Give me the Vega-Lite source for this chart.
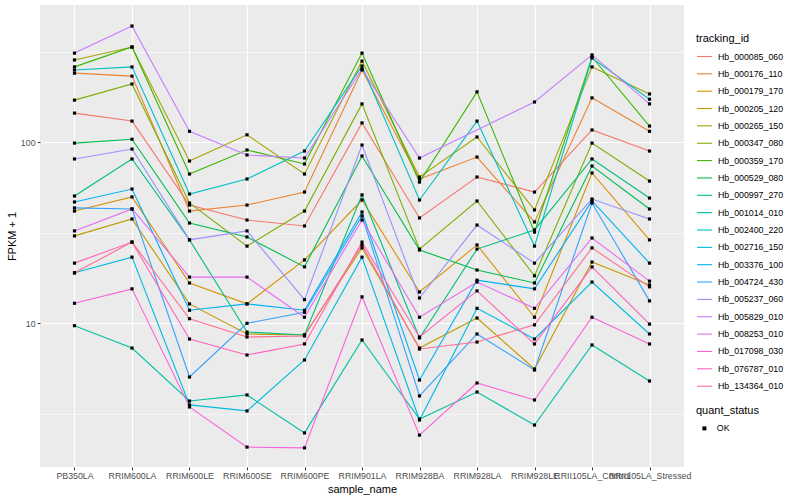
{
  "$schema": "https://vega.github.io/schema/vega-lite/v6.json",
  "autosize": {"type": "none"},
  "width": 644,
  "height": 462,
  "padding": {"left": 40, "top": 5, "right": 116, "bottom": 33},
  "background": "white",
  "config": {
    "view": {"fill": "#EBEBEB", "stroke": null},
    "font": "Liberation Sans",
    "axis": {"domain": false, "grid": true, "gridColor": "#FFFFFF", "tickColor": "#333333", "tickSize": 2.75, "labelColor": "#4D4D4D", "labelFontSize": 8.8, "labelPadding": 2.2, "titleFontSize": 11, "titleFontWeight": "normal", "titleColor": "#000000", "labelFont": "Liberation Sans", "titleFont": "Liberation Sans"},
    "legend": {"titleFontSize": 11, "titleFontWeight": "normal", "labelFontSize": 8.8, "titleColor": "#000000", "labelColor": "#000000", "titleFont": "Liberation Sans", "labelFont": "Liberation Sans"}
  },
  "data": {"values": [
    {"id":"Hb_000085_060","sample":"PB350LA","fpkm":145,"status":"OK"},
    {"id":"Hb_000085_060","sample":"RRIM600LA","fpkm":131,"status":"OK"},
    {"id":"Hb_000085_060","sample":"RRIM600LE","fpkm":45.0,"status":"OK"},
    {"id":"Hb_000085_060","sample":"RRIM600SE","fpkm":37.2,"status":"OK"},
    {"id":"Hb_000085_060","sample":"RRIM600PE","fpkm":34.5,"status":"OK"},
    {"id":"Hb_000085_060","sample":"RRIM901LA","fpkm":128,"status":"OK"},
    {"id":"Hb_000085_060","sample":"RRIM928BA","fpkm":38.2,"status":"OK"},
    {"id":"Hb_000085_060","sample":"RRIM928LA","fpkm":64.3,"status":"OK"},
    {"id":"Hb_000085_060","sample":"RRIM928LE","fpkm":53.1,"status":"OK"},
    {"id":"Hb_000085_060","sample":"RRII105LA_Control","fpkm":117,"status":"OK"},
    {"id":"Hb_000085_060","sample":"RRII105LA_Stressed","fpkm":89.5,"status":"OK"},
    {"id":"Hb_000176_110","sample":"PB350LA","fpkm":241,"status":"OK"},
    {"id":"Hb_000176_110","sample":"RRIM600LA","fpkm":232,"status":"OK"},
    {"id":"Hb_000176_110","sample":"RRIM600LE","fpkm":41.7,"status":"OK"},
    {"id":"Hb_000176_110","sample":"RRIM600SE","fpkm":45.0,"status":"OK"},
    {"id":"Hb_000176_110","sample":"RRIM600PE","fpkm":53.1,"status":"OK"},
    {"id":"Hb_000176_110","sample":"RRIM901LA","fpkm":251,"status":"OK"},
    {"id":"Hb_000176_110","sample":"RRIM928BA","fpkm":62.7,"status":"OK"},
    {"id":"Hb_000176_110","sample":"RRIM928LA","fpkm":82.9,"status":"OK"},
    {"id":"Hb_000176_110","sample":"RRIM928LE","fpkm":36.3,"status":"OK"},
    {"id":"Hb_000176_110","sample":"RRII105LA_Control","fpkm":176,"status":"OK"},
    {"id":"Hb_000176_110","sample":"RRII105LA_Stressed","fpkm":115,"status":"OK"},
    {"id":"Hb_000179_170","sample":"PB350LA","fpkm":41.7,"status":"OK"},
    {"id":"Hb_000179_170","sample":"RRIM600LA","fpkm":49.9,"status":"OK"},
    {"id":"Hb_000179_170","sample":"RRIM600LE","fpkm":16.7,"status":"OK"},
    {"id":"Hb_000179_170","sample":"RRIM600SE","fpkm":12.8,"status":"OK"},
    {"id":"Hb_000179_170","sample":"RRIM600PE","fpkm":22.4,"status":"OK"},
    {"id":"Hb_000179_170","sample":"RRIM901LA","fpkm":48.0,"status":"OK"},
    {"id":"Hb_000179_170","sample":"RRIM928BA","fpkm":14.9,"status":"OK"},
    {"id":"Hb_000179_170","sample":"RRIM928LA","fpkm":27.1,"status":"OK"},
    {"id":"Hb_000179_170","sample":"RRIM928LE","fpkm":10.8,"status":"OK"},
    {"id":"Hb_000179_170","sample":"RRII105LA_Control","fpkm":67.7,"status":"OK"},
    {"id":"Hb_000179_170","sample":"RRII105LA_Stressed","fpkm":28.9,"status":"OK"},
    {"id":"Hb_000205_120","sample":"PB350LA","fpkm":30.4,"status":"OK"},
    {"id":"Hb_000205_120","sample":"RRIM600LA","fpkm":37.7,"status":"OK"},
    {"id":"Hb_000205_120","sample":"RRIM600LE","fpkm":12.8,"status":"OK"},
    {"id":"Hb_000205_120","sample":"RRIM600SE","fpkm":8.73,"status":"OK"},
    {"id":"Hb_000205_120","sample":"RRIM600PE","fpkm":8.62,"status":"OK"},
    {"id":"Hb_000205_120","sample":"RRIM901LA","fpkm":26.1,"status":"OK"},
    {"id":"Hb_000205_120","sample":"RRIM928BA","fpkm":7.30,"status":"OK"},
    {"id":"Hb_000205_120","sample":"RRIM928LA","fpkm":10.7,"status":"OK"},
    {"id":"Hb_000205_120","sample":"RRIM928LE","fpkm":5.59,"status":"OK"},
    {"id":"Hb_000205_120","sample":"RRII105LA_Control","fpkm":21.8,"status":"OK"},
    {"id":"Hb_000205_120","sample":"RRII105LA_Stressed","fpkm":16.3,"status":"OK"},
    {"id":"Hb_000265_150","sample":"PB350LA","fpkm":285,"status":"OK"},
    {"id":"Hb_000265_150","sample":"RRIM600LA","fpkm":336,"status":"OK"},
    {"id":"Hb_000265_150","sample":"RRIM600LE","fpkm":78.8,"status":"OK"},
    {"id":"Hb_000265_150","sample":"RRIM600SE","fpkm":110,"status":"OK"},
    {"id":"Hb_000265_150","sample":"RRIM600PE","fpkm":66.8,"status":"OK"},
    {"id":"Hb_000265_150","sample":"RRIM901LA","fpkm":281,"status":"OK"},
    {"id":"Hb_000265_150","sample":"RRIM928BA","fpkm":64.3,"status":"OK"},
    {"id":"Hb_000265_150","sample":"RRIM928LA","fpkm":107,"status":"OK"},
    {"id":"Hb_000265_150","sample":"RRIM928LE","fpkm":42.3,"status":"OK"},
    {"id":"Hb_000265_150","sample":"RRII105LA_Control","fpkm":261,"status":"OK"},
    {"id":"Hb_000265_150","sample":"RRII105LA_Stressed","fpkm":185,"status":"OK"},
    {"id":"Hb_000347_080","sample":"PB350LA","fpkm":171,"status":"OK"},
    {"id":"Hb_000347_080","sample":"RRIM600LA","fpkm":210,"status":"OK"},
    {"id":"Hb_000347_080","sample":"RRIM600LE","fpkm":46.2,"status":"OK"},
    {"id":"Hb_000347_080","sample":"RRIM600SE","fpkm":26.7,"status":"OK"},
    {"id":"Hb_000347_080","sample":"RRIM600PE","fpkm":41.7,"status":"OK"},
    {"id":"Hb_000347_080","sample":"RRIM901LA","fpkm":163,"status":"OK"},
    {"id":"Hb_000347_080","sample":"RRIM928BA","fpkm":25.7,"status":"OK"},
    {"id":"Hb_000347_080","sample":"RRIM928LA","fpkm":47.4,"status":"OK"},
    {"id":"Hb_000347_080","sample":"RRIM928LE","fpkm":18.3,"status":"OK"},
    {"id":"Hb_000347_080","sample":"RRII105LA_Control","fpkm":99,"status":"OK"},
    {"id":"Hb_000347_080","sample":"RRII105LA_Stressed","fpkm":61.1,"status":"OK"},
    {"id":"Hb_000359_170","sample":"PB350LA","fpkm":261,"status":"OK"},
    {"id":"Hb_000359_170","sample":"RRIM600LA","fpkm":336,"status":"OK"},
    {"id":"Hb_000359_170","sample":"RRIM600LE","fpkm":66.8,"status":"OK"},
    {"id":"Hb_000359_170","sample":"RRIM600SE","fpkm":90.7,"status":"OK"},
    {"id":"Hb_000359_170","sample":"RRIM600PE","fpkm":75.9,"status":"OK"},
    {"id":"Hb_000359_170","sample":"RRIM901LA","fpkm":311,"status":"OK"},
    {"id":"Hb_000359_170","sample":"RRIM928BA","fpkm":60.3,"status":"OK"},
    {"id":"Hb_000359_170","sample":"RRIM928LA","fpkm":190,"status":"OK"},
    {"id":"Hb_000359_170","sample":"RRIM928LE","fpkm":31.9,"status":"OK"},
    {"id":"Hb_000359_170","sample":"RRII105LA_Control","fpkm":296,"status":"OK"},
    {"id":"Hb_000359_170","sample":"RRII105LA_Stressed","fpkm":123,"status":"OK"},
    {"id":"Hb_000529_080","sample":"PB350LA","fpkm":99,"status":"OK"},
    {"id":"Hb_000529_080","sample":"RRIM600LA","fpkm":104,"status":"OK"},
    {"id":"Hb_000529_080","sample":"RRIM600LE","fpkm":35.8,"status":"OK"},
    {"id":"Hb_000529_080","sample":"RRIM600SE","fpkm":30.0,"status":"OK"},
    {"id":"Hb_000529_080","sample":"RRIM600PE","fpkm":20.5,"status":"OK"},
    {"id":"Hb_000529_080","sample":"RRIM901LA","fpkm":84.0,"status":"OK"},
    {"id":"Hb_000529_080","sample":"RRIM928BA","fpkm":25.4,"status":"OK"},
    {"id":"Hb_000529_080","sample":"RRIM928LA","fpkm":19.7,"status":"OK"},
    {"id":"Hb_000529_080","sample":"RRIM928LE","fpkm":16.7,"status":"OK"},
    {"id":"Hb_000529_080","sample":"RRII105LA_Control","fpkm":74.0,"status":"OK"},
    {"id":"Hb_000529_080","sample":"RRII105LA_Stressed","fpkm":42.8,"status":"OK"},
    {"id":"Hb_000997_270","sample":"PB350LA","fpkm":50.5,"status":"OK"},
    {"id":"Hb_000997_270","sample":"RRIM600LA","fpkm":80.9,"status":"OK"},
    {"id":"Hb_000997_270","sample":"RRIM600LE","fpkm":28.9,"status":"OK"},
    {"id":"Hb_000997_270","sample":"RRIM600SE","fpkm":8.95,"status":"OK"},
    {"id":"Hb_000997_270","sample":"RRIM600PE","fpkm":8.62,"status":"OK"},
    {"id":"Hb_000997_270","sample":"RRIM901LA","fpkm":51.2,"status":"OK"},
    {"id":"Hb_000997_270","sample":"RRIM928BA","fpkm":8.30,"status":"OK"},
    {"id":"Hb_000997_270","sample":"RRIM928LA","fpkm":25.7,"status":"OK"},
    {"id":"Hb_000997_270","sample":"RRIM928LE","fpkm":32.8,"status":"OK"},
    {"id":"Hb_000997_270","sample":"RRII105LA_Control","fpkm":80.9,"status":"OK"},
    {"id":"Hb_000997_270","sample":"RRII105LA_Stressed","fpkm":49.2,"status":"OK"},
    {"id":"Hb_001014_010","sample":"PB350LA","fpkm":9.7,"status":"OK"},
    {"id":"Hb_001014_010","sample":"RRIM600LA","fpkm":7.30,"status":"OK"},
    {"id":"Hb_001014_010","sample":"RRIM600LE","fpkm":3.72,"status":"OK"},
    {"id":"Hb_001014_010","sample":"RRIM600SE","fpkm":4.02,"status":"OK"},
    {"id":"Hb_001014_010","sample":"RRIM600PE","fpkm":2.48,"status":"OK"},
    {"id":"Hb_001014_010","sample":"RRIM901LA","fpkm":8.09,"status":"OK"},
    {"id":"Hb_001014_010","sample":"RRIM928BA","fpkm":2.96,"status":"OK"},
    {"id":"Hb_001014_010","sample":"RRIM928LA","fpkm":4.17,"status":"OK"},
    {"id":"Hb_001014_010","sample":"RRIM928LE","fpkm":2.74,"status":"OK"},
    {"id":"Hb_001014_010","sample":"RRII105LA_Control","fpkm":7.59,"status":"OK"},
    {"id":"Hb_001014_010","sample":"RRII105LA_Stressed","fpkm":4.80,"status":"OK"},
    {"id":"Hb_002400_220","sample":"PB350LA","fpkm":251,"status":"OK"},
    {"id":"Hb_002400_220","sample":"RRIM600LA","fpkm":261,"status":"OK"},
    {"id":"Hb_002400_220","sample":"RRIM600LE","fpkm":51.8,"status":"OK"},
    {"id":"Hb_002400_220","sample":"RRIM600SE","fpkm":62.7,"status":"OK"},
    {"id":"Hb_002400_220","sample":"RRIM600PE","fpkm":89.5,"status":"OK"},
    {"id":"Hb_002400_220","sample":"RRIM901LA","fpkm":264,"status":"OK"},
    {"id":"Hb_002400_220","sample":"RRIM928BA","fpkm":48.0,"status":"OK"},
    {"id":"Hb_002400_220","sample":"RRIM928LA","fpkm":131,"status":"OK"},
    {"id":"Hb_002400_220","sample":"RRIM928LE","fpkm":26.7,"status":"OK"},
    {"id":"Hb_002400_220","sample":"RRII105LA_Control","fpkm":292,"status":"OK"},
    {"id":"Hb_002400_220","sample":"RRII105LA_Stressed","fpkm":173,"status":"OK"},
    {"id":"Hb_002716_150","sample":"PB350LA","fpkm":19.0,"status":"OK"},
    {"id":"Hb_002716_150","sample":"RRIM600LA","fpkm":23.2,"status":"OK"},
    {"id":"Hb_002716_150","sample":"RRIM600LE","fpkm":3.54,"status":"OK"},
    {"id":"Hb_002716_150","sample":"RRIM600SE","fpkm":3.28,"status":"OK"},
    {"id":"Hb_002716_150","sample":"RRIM600PE","fpkm":6.27,"status":"OK"},
    {"id":"Hb_002716_150","sample":"RRIM901LA","fpkm":23.2,"status":"OK"},
    {"id":"Hb_002716_150","sample":"RRIM928BA","fpkm":2.92,"status":"OK"},
    {"id":"Hb_002716_150","sample":"RRIM928LA","fpkm":12.1,"status":"OK"},
    {"id":"Hb_002716_150","sample":"RRIM928LE","fpkm":8.19,"status":"OK"},
    {"id":"Hb_002716_150","sample":"RRII105LA_Control","fpkm":16.9,"status":"OK"},
    {"id":"Hb_002716_150","sample":"RRII105LA_Stressed","fpkm":8.73,"status":"OK"},
    {"id":"Hb_003376_100","sample":"PB350LA","fpkm":46.8,"status":"OK"},
    {"id":"Hb_003376_100","sample":"RRIM600LA","fpkm":55.2,"status":"OK"},
    {"id":"Hb_003376_100","sample":"RRIM600LE","fpkm":11.8,"status":"OK"},
    {"id":"Hb_003376_100","sample":"RRIM600SE","fpkm":12.8,"status":"OK"},
    {"id":"Hb_003376_100","sample":"RRIM600PE","fpkm":11.8,"status":"OK"},
    {"id":"Hb_003376_100","sample":"RRIM901LA","fpkm":41.2,"status":"OK"},
    {"id":"Hb_003376_100","sample":"RRIM928BA","fpkm":4.86,"status":"OK"},
    {"id":"Hb_003376_100","sample":"RRIM928LA","fpkm":17.3,"status":"OK"},
    {"id":"Hb_003376_100","sample":"RRIM928LE","fpkm":15.5,"status":"OK"},
    {"id":"Hb_003376_100","sample":"RRII105LA_Control","fpkm":47.4,"status":"OK"},
    {"id":"Hb_003376_100","sample":"RRII105LA_Stressed","fpkm":21.5,"status":"OK"},
    {"id":"Hb_004724_430","sample":"PB350LA","fpkm":43.4,"status":"OK"},
    {"id":"Hb_004724_430","sample":"RRIM600LA","fpkm":42.8,"status":"OK"},
    {"id":"Hb_004724_430","sample":"RRIM600LE","fpkm":5.05,"status":"OK"},
    {"id":"Hb_004724_430","sample":"RRIM600SE","fpkm":10.0,"status":"OK"},
    {"id":"Hb_004724_430","sample":"RRIM600PE","fpkm":11.5,"status":"OK"},
    {"id":"Hb_004724_430","sample":"RRIM901LA","fpkm":39.2,"status":"OK"},
    {"id":"Hb_004724_430","sample":"RRIM928BA","fpkm":3.97,"status":"OK"},
    {"id":"Hb_004724_430","sample":"RRIM928LA","fpkm":8.73,"status":"OK"},
    {"id":"Hb_004724_430","sample":"RRIM928LE","fpkm":5.52,"status":"OK"},
    {"id":"Hb_004724_430","sample":"RRII105LA_Control","fpkm":46.2,"status":"OK"},
    {"id":"Hb_004724_430","sample":"RRII105LA_Stressed","fpkm":13.3,"status":"OK"},
    {"id":"Hb_005237_060","sample":"PB350LA","fpkm":80.9,"status":"OK"},
    {"id":"Hb_005237_060","sample":"RRIM600LA","fpkm":91.8,"status":"OK"},
    {"id":"Hb_005237_060","sample":"RRIM600LE","fpkm":28.9,"status":"OK"},
    {"id":"Hb_005237_060","sample":"RRIM600SE","fpkm":32.4,"status":"OK"},
    {"id":"Hb_005237_060","sample":"RRIM600PE","fpkm":13.5,"status":"OK"},
    {"id":"Hb_005237_060","sample":"RRIM901LA","fpkm":96.6,"status":"OK"},
    {"id":"Hb_005237_060","sample":"RRIM928BA","fpkm":13.8,"status":"OK"},
    {"id":"Hb_005237_060","sample":"RRIM928LA","fpkm":34.9,"status":"OK"},
    {"id":"Hb_005237_060","sample":"RRIM928LE","fpkm":21.5,"status":"OK"},
    {"id":"Hb_005237_060","sample":"RRII105LA_Control","fpkm":48.6,"status":"OK"},
    {"id":"Hb_005237_060","sample":"RRII105LA_Stressed","fpkm":37.7,"status":"OK"},
    {"id":"Hb_005829_010","sample":"PB350LA","fpkm":311,"status":"OK"},
    {"id":"Hb_005829_010","sample":"RRIM600LA","fpkm":439,"status":"OK"},
    {"id":"Hb_005829_010","sample":"RRIM600LE","fpkm":115,"status":"OK"},
    {"id":"Hb_005829_010","sample":"RRIM600SE","fpkm":85.1,"status":"OK"},
    {"id":"Hb_005829_010","sample":"RRIM600PE","fpkm":81.9,"status":"OK"},
    {"id":"Hb_005829_010","sample":"RRIM901LA","fpkm":254,"status":"OK"},
    {"id":"Hb_005829_010","sample":"RRIM928BA","fpkm":81.9,"status":"OK"},
    {"id":"Hb_005829_010","sample":"RRIM928LE","fpkm":167,"status":"OK"},
    {"id":"Hb_005829_010","sample":"RRII105LA_Control","fpkm":304,"status":"OK"},
    {"id":"Hb_005829_010","sample":"RRII105LA_Stressed","fpkm":163,"status":"OK"},
    {"id":"Hb_008253_010","sample":"PB350LA","fpkm":32.4,"status":"OK"},
    {"id":"Hb_008253_010","sample":"RRIM600LA","fpkm":42.8,"status":"OK"},
    {"id":"Hb_008253_010","sample":"RRIM600LE","fpkm":18.0,"status":"OK"},
    {"id":"Hb_008253_010","sample":"RRIM600SE","fpkm":18.0,"status":"OK"},
    {"id":"Hb_008253_010","sample":"RRIM600PE","fpkm":10.8,"status":"OK"},
    {"id":"Hb_008253_010","sample":"RRIM901LA","fpkm":37.2,"status":"OK"},
    {"id":"Hb_008253_010","sample":"RRIM928BA","fpkm":10.8,"status":"OK"},
    {"id":"Hb_008253_010","sample":"RRIM928LA","fpkm":16.9,"status":"OK"},
    {"id":"Hb_008253_010","sample":"RRIM928LE","fpkm":12.1,"status":"OK"},
    {"id":"Hb_008253_010","sample":"RRII105LA_Control","fpkm":29.6,"status":"OK"},
    {"id":"Hb_008253_010","sample":"RRII105LA_Stressed","fpkm":17.1,"status":"OK"},
    {"id":"Hb_017098_030","sample":"PB350LA","fpkm":12.9,"status":"OK"},
    {"id":"Hb_017098_030","sample":"RRIM600LA","fpkm":15.5,"status":"OK"},
    {"id":"Hb_017098_030","sample":"RRIM600LE","fpkm":3.45,"status":"OK"},
    {"id":"Hb_017098_030","sample":"RRIM600SE","fpkm":2.07,"status":"OK"},
    {"id":"Hb_017098_030","sample":"RRIM600PE","fpkm":2.05,"status":"OK"},
    {"id":"Hb_017098_030","sample":"RRIM901LA","fpkm":14.0,"status":"OK"},
    {"id":"Hb_017098_030","sample":"RRIM928BA","fpkm":2.41,"status":"OK"},
    {"id":"Hb_017098_030","sample":"RRIM928LA","fpkm":4.68,"status":"OK"},
    {"id":"Hb_017098_030","sample":"RRIM928LE","fpkm":3.77,"status":"OK"},
    {"id":"Hb_017098_030","sample":"RRII105LA_Control","fpkm":10.8,"status":"OK"},
    {"id":"Hb_017098_030","sample":"RRII105LA_Stressed","fpkm":7.69,"status":"OK"},
    {"id":"Hb_076787_010","sample":"PB350LA","fpkm":21.5,"status":"OK"},
    {"id":"Hb_076787_010","sample":"RRIM600LA","fpkm":28.1,"status":"OK"},
    {"id":"Hb_076787_010","sample":"RRIM600LE","fpkm":8.19,"status":"OK"},
    {"id":"Hb_076787_010","sample":"RRIM600SE","fpkm":6.68,"status":"OK"},
    {"id":"Hb_076787_010","sample":"RRIM600PE","fpkm":7.69,"status":"OK"},
    {"id":"Hb_076787_010","sample":"RRIM901LA","fpkm":28.1,"status":"OK"},
    {"id":"Hb_076787_010","sample":"RRIM928BA","fpkm":8.40,"status":"OK"},
    {"id":"Hb_076787_010","sample":"RRIM928LA","fpkm":15.1,"status":"OK"},
    {"id":"Hb_076787_010","sample":"RRIM928LE","fpkm":7.69,"status":"OK"},
    {"id":"Hb_076787_010","sample":"RRII105LA_Control","fpkm":20.5,"status":"OK"},
    {"id":"Hb_076787_010","sample":"RRII105LA_Stressed","fpkm":9.9,"status":"OK"},
    {"id":"Hb_134364_010","sample":"PB350LA","fpkm":19.0,"status":"OK"},
    {"id":"Hb_134364_010","sample":"RRIM600LA","fpkm":28.1,"status":"OK"},
    {"id":"Hb_134364_010","sample":"RRIM600LE","fpkm":10.6,"status":"OK"},
    {"id":"Hb_134364_010","sample":"RRIM600SE","fpkm":8.40,"status":"OK"},
    {"id":"Hb_134364_010","sample":"RRIM600PE","fpkm":8.51,"status":"OK"},
    {"id":"Hb_134364_010","sample":"RRIM901LA","fpkm":27.1,"status":"OK"},
    {"id":"Hb_134364_010","sample":"RRIM928BA","fpkm":7.21,"status":"OK"},
    {"id":"Hb_134364_010","sample":"RRIM928LA","fpkm":7.88,"status":"OK"},
    {"id":"Hb_134364_010","sample":"RRIM928LE","fpkm":9.8,"status":"OK"},
    {"id":"Hb_134364_010","sample":"RRII105LA_Control","fpkm":26.1,"status":"OK"},
    {"id":"Hb_134364_010","sample":"RRII105LA_Stressed","fpkm":15.9,"status":"OK"}
  ]},
  "encoding": {
    "x": {
      "field": "sample", "type": "nominal", "title": "sample_name",
      "sort": ["PB350LA","RRIM600LA","RRIM600LE","RRIM600SE","RRIM600PE","RRIM901LA","RRIM928BA","RRIM928LA","RRIM928LE","RRII105LA_Control","RRII105LA_Stressed"],
      "scale": {"type": "point", "padding": 0.6},
      "axis": {"labelAngle": 0, "labelOverlap": false, "labelBound": false, "gridWidth": 1.1, "titlePadding": 3}
    },
    "y": {
      "field": "fpkm", "type": "quantitative", "title": "FPKM + 1",
      "scale": {"type": "log", "domain": [1.607, 573.6], "nice": false, "zero": false},
      "axis": {
        "values": [3.1623, 10, 31.623, 100, 316.23],
        "labelExpr": "(datum.value == 10 || datum.value == 100) ? format(datum.value, 'd') : ''",
        "gridWidth": {"condition": {"test": "datum.value == 10 || datum.value == 100", "value": 1.1}, "value": 0.55},
        "tickOpacity": {"condition": {"test": "datum.value == 10 || datum.value == 100", "value": 1}, "value": 0},
        "titlePadding": 3
      }
    }
  },
  "layer": [
    {
      "mark": {"type": "line", "strokeWidth": 1.1},
      "encoding": {
        "color": {
          "field": "id", "type": "nominal", "title": "tracking_id",
          "scale": {
            "domain": ["Hb_000085_060","Hb_000176_110","Hb_000179_170","Hb_000205_120","Hb_000265_150","Hb_000347_080","Hb_000359_170","Hb_000529_080","Hb_000997_270","Hb_001014_010","Hb_002400_220","Hb_002716_150","Hb_003376_100","Hb_004724_430","Hb_005237_060","Hb_005829_010","Hb_008253_010","Hb_017098_030","Hb_076787_010","Hb_134364_010"],
            "range": ["#F8766D","#EA8331","#D89000","#C09B00","#A3A500","#7CAE00","#39B600","#00BB4E","#00BF7D","#00C1A3","#00BFC4","#00BAE0","#00B0F6","#35A2FF","#9590FF","#C77CFF","#E76BF3","#FA62DB","#FF62BC","#FF6C91"]
          },
          "legend": {"orient": "none", "legendX": 656, "legendY": 28, "symbolType": "stroke", "symbolSize": 225, "symbolStrokeWidth": 1.1, "labelOffset": 5, "rowPadding": 3.35, "titlePadding": 4, "symbolOffset": 0}
        }
      }
    },
    {
      "mark": {"type": "point", "filled": true, "opacity": 1, "size": 10, "color": "#000000"},
      "encoding": {
        "shape": {
          "field": "status", "type": "nominal", "title": "quant_status",
          "scale": {"range": ["square"]},
          "legend": {"orient": "none", "legendX": 656, "legendY": 400, "symbolFillColor": "#000000", "symbolStrokeColor": "#000000", "symbolSize": 16, "labelOffset": 8, "titlePadding": 8, "symbolOffset": 4}
        }
      }
    }
  ]
}
